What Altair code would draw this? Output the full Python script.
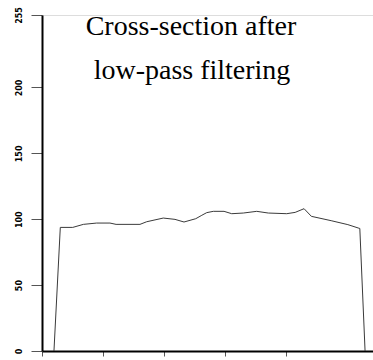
import altair as alt
import pandas as pd

# cross-section profile (column index, intensity)
xs = [9.8, 15.0, 25.2, 33.9, 44.8, 55.7, 60.7, 80.3, 85.8, 99.4, 109.0, 116.4,
      126.0, 131.0, 135.0, 140.4, 149.2, 155.5, 165.0, 176.0, 185.5, 200.6,
      207.5, 214.8, 220.8, 237.0, 250.7, 259.7, 260.5, 264.8]
ys = [0, 93.8, 93.8, 96.1, 97.1, 97.1, 96.1, 96.1, 98.1, 100.9, 99.9, 97.9,
      100.4, 103.0, 105.0, 106.0, 106.0, 104.2, 104.7, 106.0, 104.7, 104.2,
      105.2, 108.0, 102.2, 98.9, 95.9, 93.2, 93.0, 0]

y_ticks = [0, 50, 100, 150, 200, 255]
x_ticks = [0, 50, 100, 150, 200]
title_lines = ["Cross-section after", "low-pass filtering"]

df = pd.DataFrame({"x": xs, "y": ys})
one = pd.DataFrame({"t": [0]})

SERIF = "Times New Roman"

line = alt.Chart(df).mark_line(color="#3a3a3a", strokeWidth=1).encode(
    x=alt.X("x:Q", scale=alt.Scale(domain=[0, 271.3], nice=False, zero=False),
            axis=alt.Axis(values=x_ticks, labels=False, title=None, grid=False,
                          tickSize=5, tickColor="#555", domainColor="black",
                          domainWidth=2, tickWidth=1)),
    y=alt.Y("y:Q", scale=alt.Scale(domain=[0, 255], nice=False),
            axis=alt.Axis(values=y_ticks, title=None, grid=False, tickSize=11,
                          tickColor="#555", domainColor="black", domainWidth=2,
                          labelAngle=270, labelAlign="center", labelBaseline="middle",
                          labelPadding=12, labelFont="DejaVu Sans", labelFontWeight="bold",
                          labelFontSize=8, labelColor="black")),
)

t1 = alt.Chart(one).mark_text(font=SERIF, fontSize=28, color="black",
                              baseline="alphabetic", align="center").encode(
    x=alt.value(149), y=alt.value(20), text=alt.value(title_lines[0]))
t2 = alt.Chart(one).mark_text(font=SERIF, fontSize=28, color="black",
                              baseline="alphabetic", align="center").encode(
    x=alt.value(150), y=alt.value(64), text=alt.value(title_lines[1]))

chart = (line + t1 + t2).properties(
    width=331, height=336,
    autosize=alt.AutoSizeParams(type="none"),
    padding={"left": 42, "top": 15, "right": 0, "bottom": 9},
).configure_view(stroke=None).configure(background="white")

chart.save("out.html", embed_options={"renderer": "svg", "actions": False})
